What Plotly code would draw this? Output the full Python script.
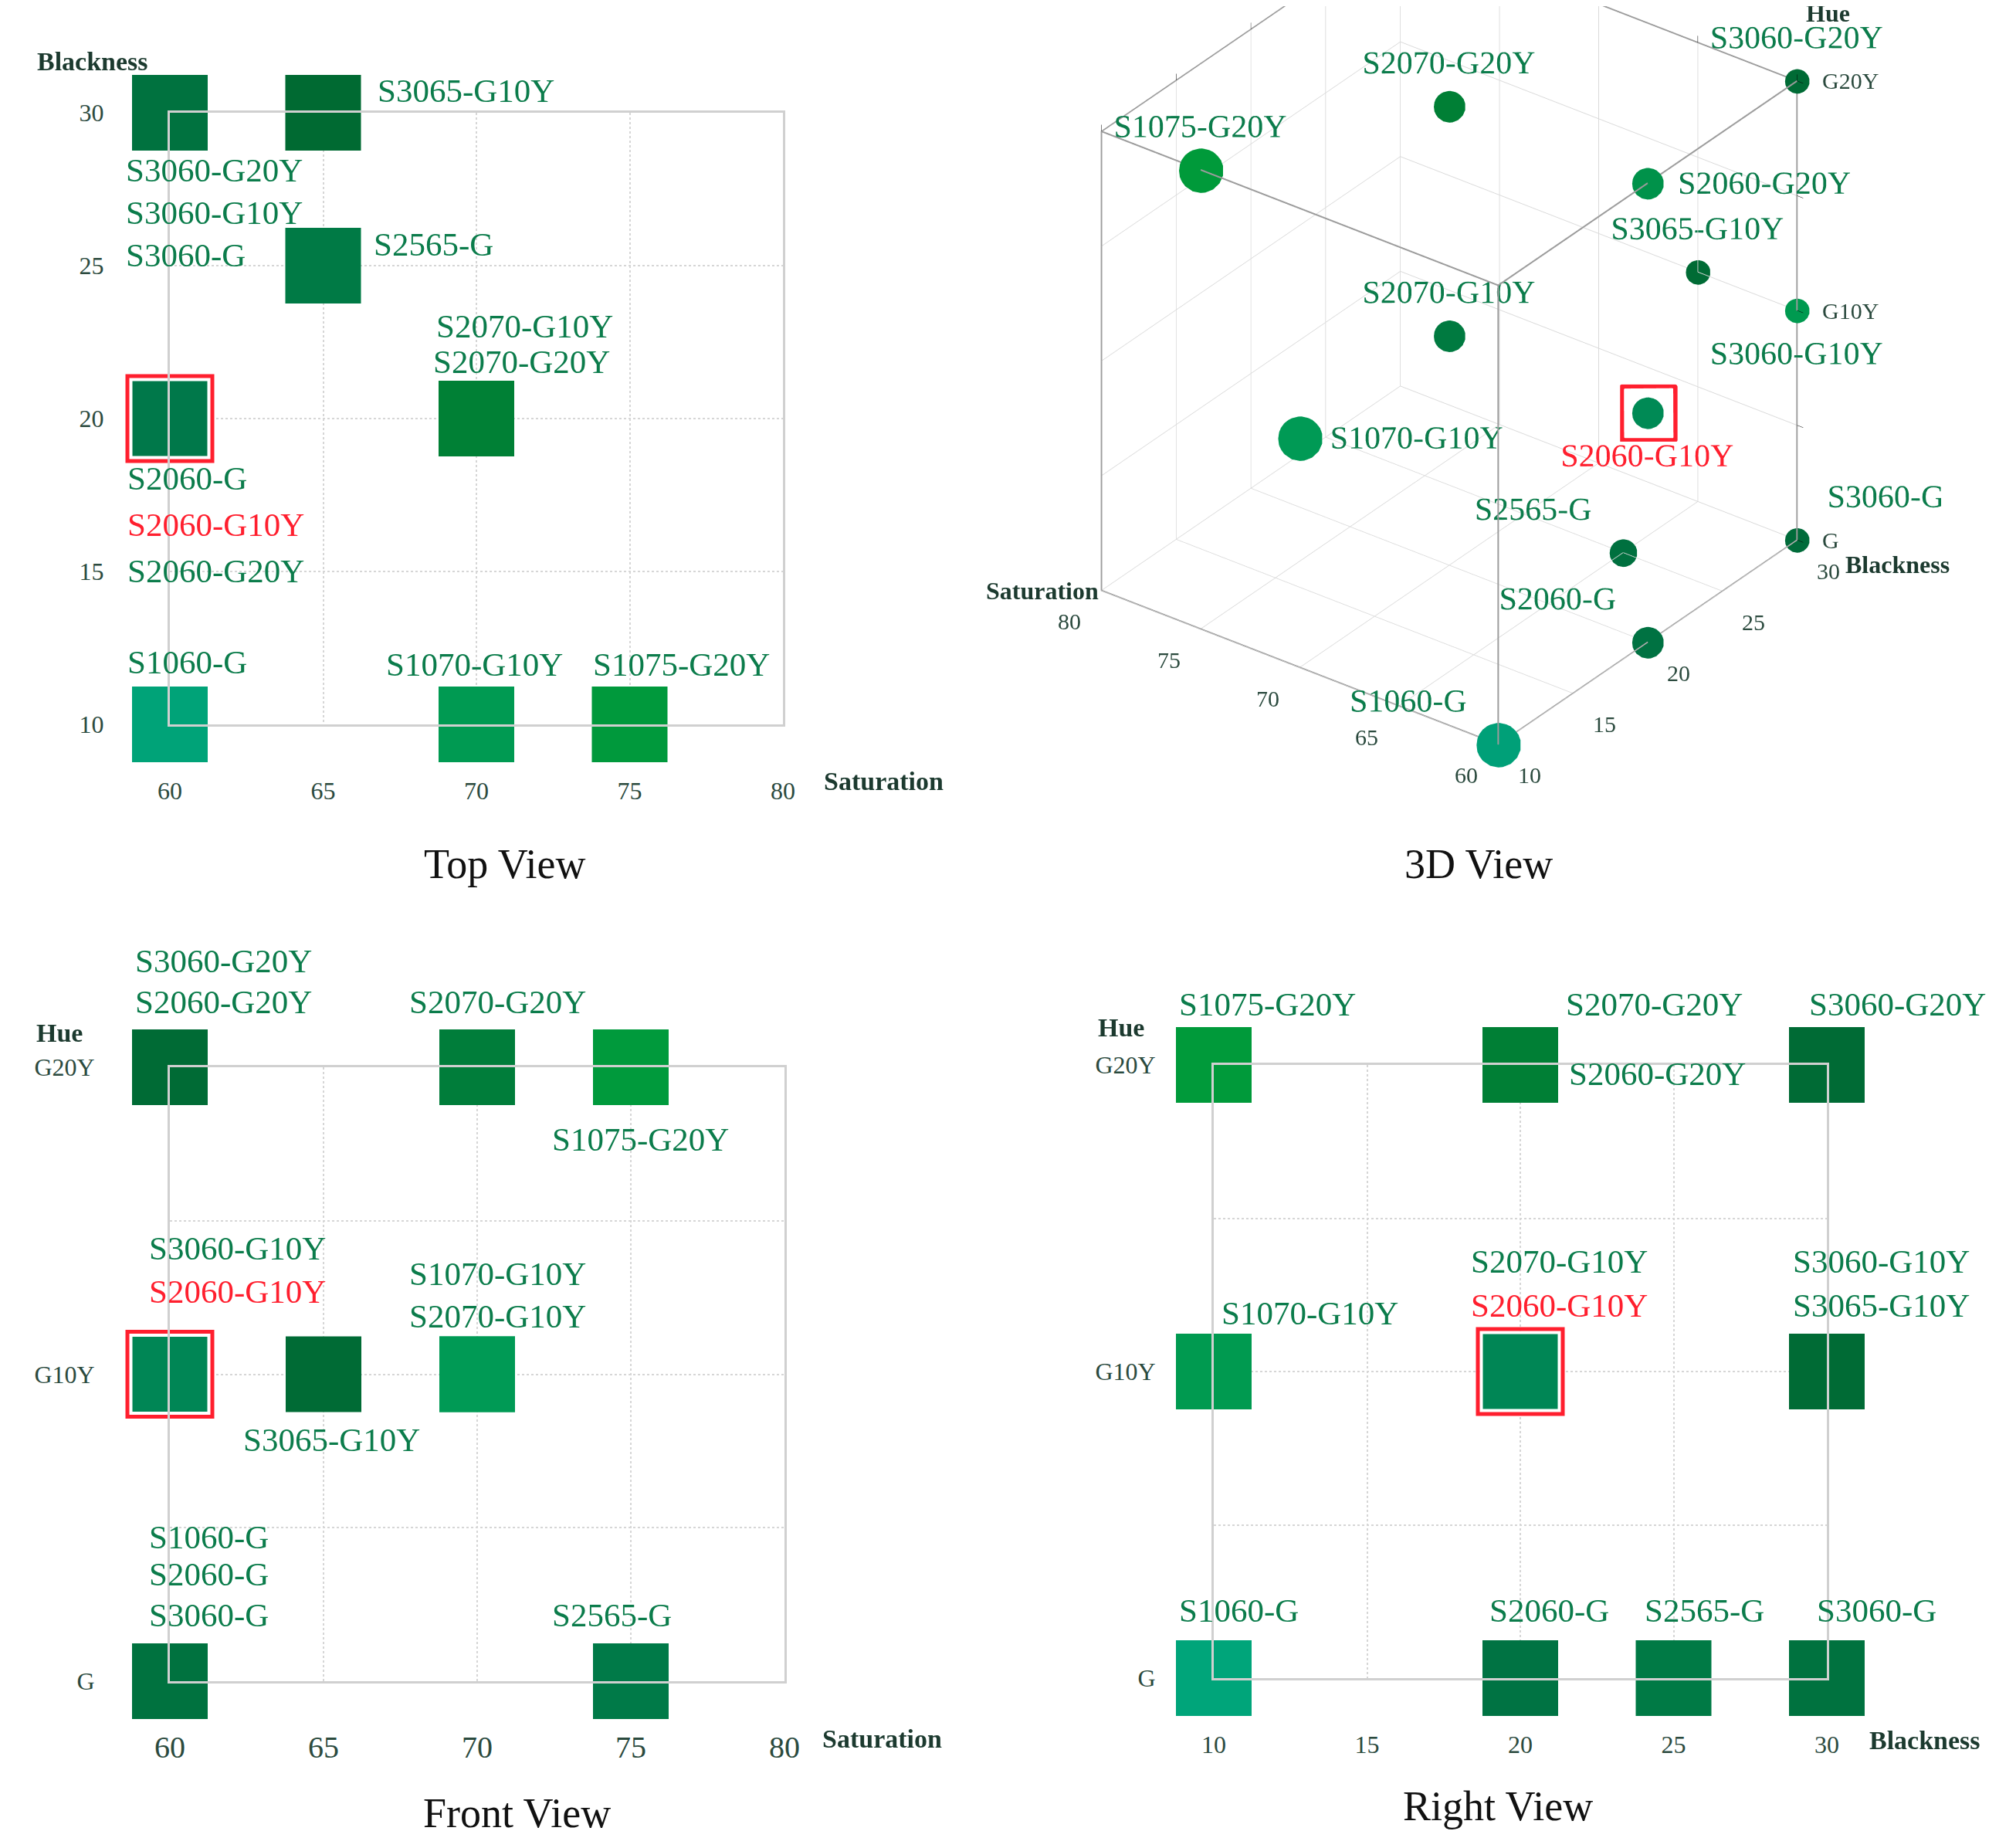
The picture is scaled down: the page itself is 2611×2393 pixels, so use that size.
import plotly.graph_objects as go

# ---------------- data ----------------
codes = ["S1060-G", "S2060-G", "S3060-G", "S2565-G",
         "S1070-G10Y", "S2070-G10Y", "S2060-G10Y", "S3060-G10Y", "S3065-G10Y",
         "S1075-G20Y", "S2070-G20Y", "S2060-G20Y", "S3060-G20Y"]
blackness = [10, 20, 30, 25, 10, 20, 20, 30, 30, 10, 20, 20, 30]
saturation = [60, 60, 60, 65, 70, 70, 60, 60, 65, 75, 70, 60, 60]
hue = ["G", "G", "G", "G", "G10Y", "G10Y", "G10Y", "G10Y", "G10Y",
       "G20Y", "G20Y", "G20Y", "G20Y"]
# the front view of the source places S2565-G at saturation 75
front_view_saturation = [60, 60, 60, 75, 70, 70, 60, 60, 65, 75, 70, 60, 60]
highlight = "S2060-G10Y"

hue_levels = ["G", "G10Y", "G20Y"]
sat_ticks = [60, 65, 70, 75, 80]
black_ticks = [10, 15, 20, 25, 30]

# ---------------- styles ----------------
top_colors = ["#00a378", "#00784a", "#00723f", "#007a45", "#009a52", "#008035", "#00784a",
              "#00723f", "#006a32", "#00993c", "#008035", "#00784a", "#00723f"]
front_colors = ["#00723f", "#00723f", "#00723f", "#007a48", "#009a55", "#009a55", "#008655",
                "#008655", "#006b35", "#009a3c", "#007d3a", "#006b35", "#006b35"]
right_colors = ["#00a57a", "#007343", "#00723f", "#007a45", "#009a50", "#008655", "#008655",
                "#006b35", "#006b35", "#009a3a", "#007f35", "#007f35", "#006b35"]
d3_colors = ["#00a078", "#007242", "#006b3a", "#00703f", "#009a55", "#007a40", "#008a55",
             "#009a50", "#006b35", "#009a3a", "#007f35", "#00924a", "#006b35"]

# label offsets (px, left edge / vertical centre relative to the marker; +dy = down)
top_offsets = {"S3060-G20Y": (-59, 74), "S3060-G10Y": (-59, 129), "S3060-G": (-59, 184),
               "S3065-G10Y": (68, -29), "S2565-G": (63, -28),
               "S2070-G10Y": (-54, -120), "S2070-G20Y": (-58, -74),
               "S2060-G": (-57, 77), "S2060-G10Y": (-57, 137), "S2060-G20Y": (-57, 197),
               "S1060-G": (-57, -81), "S1070-G10Y": (-119, -78), "S1075-G20Y": (-50, -78)}
front_offsets = {"S3060-G20Y": (-47, -138), "S2060-G20Y": (-47, -85), "S2070-G20Y": (-90, -85),
                 "S1075-G20Y": (-104, 93), "S3060-G10Y": (-29, -163), "S2060-G10Y": (-29, -107),
                 "S3065-G10Y": (-106, 85), "S1070-G10Y": (-90, -130), "S2070-G10Y": (-90, -75),
                 "S1060-G": (-29, -187), "S2060-G": (-29, -139), "S3060-G": (-29, -86),
                 "S2565-G": (-104, -86)}
right_offsets = {"S1075-G20Y": (-47, -79), "S2070-G20Y": (57, -79), "S2060-G20Y": (61, 11),
                 "S3060-G20Y": (-25, -79), "S1070-G10Y": (8, -76), "S2070-G10Y": (-66, -143),
                 "S2060-G10Y": (-66, -86), "S3060-G10Y": (-46, -143), "S3065-G10Y": (-46, -86),
                 "S1060-G": (-47, -88), "S2060-G": (-42, -88), "S2565-G": (-40, -88),
                 "S3060-G": (-15, -88)}
d3_textpos = ["top left", "top left", "top right", "top left", "middle right", "top center",
              "bottom center", "bottom center", "top center", "top center", "top center",
              "middle right", "top center"]

W, H = 2611, 2393
OFF = 8  # page body margin
SERIF = "Liberation Serif"
GREEN_TXT = "#0b7c4b"
RED = "#ff1f2e"
TICK_COL = "#2b4a3e"
TITLE_COL = "#1c3a2f"
LINE_COL = "#d0d0d0"
GRID_COL = "#d6d6d6"
BOX_COL = "#9c9c9c"

hue_idx = [hue_levels.index(h) for h in hue]


def fx(p):
    return (p - OFF) / W


def fy(p):
    return 1 - (p - OFF) / H


fig = go.Figure()


def add_view(xs, ys, colors, offsets, xa, ya):
    fig.add_trace(go.Scatter(
        x=xs, y=ys, mode="markers", xaxis=xa, yaxis=ya, cliponaxis=False,
        marker=dict(symbol="square", size=98, color=colors, line=dict(width=0)),
        hoverinfo="skip", showlegend=False))
    hi = codes.index(highlight)
    fig.add_trace(go.Scatter(
        x=[xs[hi]], y=[ys[hi]], mode="markers", xaxis=xa, yaxis=ya, cliponaxis=False,
        marker=dict(symbol="square-open", size=101, color="white", line=dict(width=4, color="white")),
        hoverinfo="skip", showlegend=False))
    fig.add_trace(go.Scatter(
        x=[xs[hi]], y=[ys[hi]], mode="markers", xaxis=xa, yaxis=ya, cliponaxis=False,
        marker=dict(symbol="square-open", size=110, color=RED, line=dict(width=5, color=RED)),
        hoverinfo="skip", showlegend=False))
    for c, x, y in zip(codes, xs, ys):
        dx, dy = offsets[c]
        fig.add_annotation(
            x=x, y=y, xref=xa, yref=ya, text=c, showarrow=False,
            xanchor="left", yanchor="middle", xshift=dx, yshift=-dy,
            font=dict(family=SERIF, size=43, color=RED if c == highlight else GREEN_TXT))


add_view(saturation, blackness, top_colors, top_offsets, "x", "y")
add_view(front_view_saturation, hue_idx, front_colors, front_offsets, "x2", "y2")
add_view(blackness, hue_idx, right_colors, right_offsets, "x3", "y3")

# ---------------- 3D view ----------------
b0, b1 = black_ticks[0], black_ticks[-1]
s0, s1 = sat_ticks[0], sat_ticks[-1]
h0, h1 = 0, len(hue_levels) - 1
# front edges of the cube (the frame nearest to the viewer)
fig.add_trace(go.Scatter3d(
    x=[b0, b0, None, b0, b0, None, b0, b1],
    y=[s0, s0, None, s0, s1, None, s0, s0],
    z=[h0, h1, None, h1, h1, None, h1, h1],
    mode="lines", line=dict(color=BOX_COL, width=4), hoverinfo="skip", showlegend=False))

sizes3d = [1650 / (b + 14.7) for b in blackness]
fig.add_trace(go.Scatter3d(
    x=blackness, y=saturation, z=hue_idx, mode="markers+text", text=codes,
    textposition=d3_textpos,
    textfont=dict(family=SERIF, size=42, color=[RED if c == highlight else GREEN_TXT for c in codes]),
    marker=dict(size=sizes3d, color=d3_colors, opacity=1, line=dict(width=0)),
    hoverinfo="skip", showlegend=False))
hi = codes.index(highlight)
fig.add_trace(go.Scatter3d(
    x=[blackness[hi]], y=[saturation[hi]], z=[hue_idx[hi]], mode="markers",
    marker=dict(symbol="square-open", size=31, color=RED, line=dict(width=2, color=RED)),
    hoverinfo="skip", showlegend=False))


def ax2d(domain, anchor, rng, tickvals, ticktext, fsize, ticklen):
    return dict(domain=domain, anchor=anchor, range=rng, tickvals=tickvals, ticktext=ticktext,
                showline=True, mirror=True, linecolor=LINE_COL, linewidth=3,
                showgrid=True, gridcolor=GRID_COL, gridwidth=2, griddash="dot",
                zeroline=False, ticks="outside", ticklen=ticklen, tickcolor="rgba(0,0,0,0)",
                automargin=False,
                tickfont=dict(family=SERIF, size=fsize, color=TICK_COL), fixedrange=True)


hue_tickvals = [0, 0.5, 1, 1.5, 2]
hue_ticktext = ["G", "", "G10Y", "", "G20Y"]

axis3d = dict(showbackground=False, gridcolor="#dadada", gridwidth=2, showline=True,
              linecolor=BOX_COL, linewidth=4, mirror="all", showspikes=False, zeroline=False,
              ticks="", title=dict(text=""), showticklabels=False)

tick3d_font = dict(family=SERIF, size=30, color=TICK_COL)
name3d_font = dict(family=SERIF, size=32, color=TITLE_COL)
annotations_3d = []
for s in sat_ticks:
    annotations_3d.append(dict(x=b0, y=s, z=h0, text=str(s), showarrow=False, xanchor="center",
                               yanchor="middle", xshift=-42, yshift=-40, font=tick3d_font))
for b in black_ticks:
    annotations_3d.append(dict(x=b, y=s0, z=h0, text=str(b), showarrow=False, xanchor="center",
                               yanchor="middle", xshift=40, yshift=-40, font=tick3d_font))
for k, h in enumerate(hue_levels):
    annotations_3d.append(dict(x=b1, y=s0, z=k, text=h, showarrow=False, xanchor="left",
                               yanchor="middle", xshift=30, yshift=0, font=tick3d_font))
annotations_3d += [
    dict(x=b0, y=s1, z=h0, text="<b>Saturation</b>", showarrow=False, xanchor="right",
         yanchor="middle", xshift=-2, yshift=0, font=name3d_font),
    dict(x=b1, y=s0, z=h0, text="<b>Blackness</b>", showarrow=False, xanchor="left",
         yanchor="middle", xshift=60, yshift=-32, font=name3d_font),
    dict(x=b1, y=s0, z=h1, text="<b>Hue</b>", showarrow=False, xanchor="center",
         yanchor="middle", xshift=40, yshift=88, font=name3d_font),
]

fig.update_layout(
    width=W, height=H, margin=dict(l=0, r=0, t=0, b=0, autoexpand=False),
    paper_bgcolor="white", plot_bgcolor="white", showlegend=False,
    xaxis=ax2d([fx(220), fx(1014)], "y", [60, 80], sat_ticks, None, 32, 56),
    yaxis=ax2d([fy(938), fy(146)], "x", [10, 30], black_ticks, None, 32, 76),
    xaxis2=ax2d([fx(220), fx(1016)], "y2", [60, 80], sat_ticks, None, 40, 48),
    yaxis2=ax2d([fy(2177), fy(1382)], "x2", [0, 2], hue_tickvals, hue_ticktext, 32, 88),
    xaxis3=ax2d([fx(1572), fx(2366)], "y3", [10, 30], black_ticks, None, 32, 56),
    yaxis3=ax2d([fy(2173), fy(1379)], "x3", [0, 2], hue_tickvals, hue_ticktext, 32, 66),
    scene=dict(
        domain=dict(x=[0.472, 0.960], y=[0.58, 1.0]),
        xaxis=dict(axis3d, range=[b0, b1], tickvals=black_ticks),
        yaxis=dict(axis3d, range=[s0, s1], tickvals=sat_ticks),
        zaxis=dict(axis3d, range=[h0, h1], tickvals=hue_tickvals),
        aspectmode="manual", aspectratio=dict(x=1.28, y=1.28, z=1.38),
        camera=dict(eye=dict(x=-1.082, y=-0.815, z=0.638), center=dict(x=0, y=0, z=-0.176),
                    projection=dict(type="orthographic")),
        annotations=annotations_3d,
    ),
)

# axis names and panel titles
name_font = dict(family=SERIF, size=34, color=TITLE_COL)
for txt, x, y in [("<b>Blackness</b>", 120, 80), ("<b>Saturation</b>", 1144, 1012),
                  ("<b>Hue</b>", 77, 1337), ("<b>Saturation</b>", 1142, 2251),
                  ("<b>Hue</b>", 1452, 1330), ("<b>Blackness</b>", 2493, 2253)]:
    fig.add_annotation(x=fx(x), y=fy(y), xref="paper", yref="paper", text=txt, showarrow=False,
                       xanchor="center", yanchor="middle", font=name_font)

title_font = dict(family=SERIF, size=54, color="#111111")
for txt, x, y in [("Top View", 653, 1119), ("3D View", 1915, 1119),
                  ("Front View", 669, 2348), ("Right View", 1940, 2339)]:
    fig.add_annotation(x=fx(x), y=fy(y), xref="paper", yref="paper", text=txt, showarrow=False,
                       xanchor="center", yanchor="middle", font=title_font)

fig.write_html("out.html", config=dict(displayModeBar=False))
